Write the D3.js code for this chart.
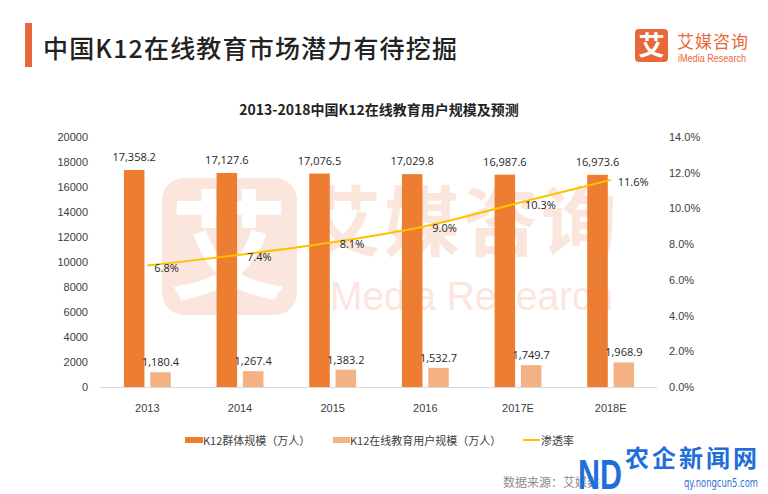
<!DOCTYPE html>
<html>
<head>
<meta charset="utf-8">
<script src="https://cdn.jsdelivr.net/npm/d3@7"></script>
<style>
  body { margin: 0; background: #fff; }
  svg { display: block; font-family: "Open Sans", "Noto Sans CJK SC", sans-serif; }
  .axis text { font-size: 11px; fill: #404040; }
  .cjk { font-family: "Noto Sans CJK SC", sans-serif; }
</style>
</head>
<body>
<div id="chart"></div>
<script>
const years = ['2013', '2014', '2015', '2016', '2017E', '2018E'];
const groupSize = [17358.2, 17127.6, 17076.5, 17029.8, 16987.6, 16973.6];
const onlineUsers = [1180.4, 1267.4, 1383.2, 1532.7, 1749.7, 1968.9];
const rate = [0.068, 0.074, 0.081, 0.090, 0.103, 0.116];
const leftTicks = [0, 2000, 4000, 6000, 8000, 10000, 12000, 14000, 16000, 18000, 20000];
const rightTicks = [0, 0.02, 0.04, 0.06, 0.08, 0.10, 0.12, 0.14];

const width = 768;
const height = 494;
const orange = '#ED7D31';
const light = '#F4B183';
const gold = '#FFC000';

const svg = d3.select('#chart').append('svg')
  .attr('width', width)
  .attr('height', height);

// header
svg.append('rect').attr('x', 25).attr('y', 23).attr('width', 7).attr('height', 44).attr('fill', '#E8683A');
svg.append('text').attr('class', 'cjk')
  .attr('x', 43).attr('y', 58)
  .attr('textLength', 414).attr('lengthAdjust', 'spacing')
  .style('font-size', '25px').style('font-weight', '500').style('fill', '#222')
  .text('中国K12在线教育市场潜力有待挖掘');

// logo
const logo = svg.append('g');
logo.append('rect').attr('x', 635).attr('y', 29).attr('width', 33).attr('height', 33).attr('rx', 4).attr('fill', '#E8683A');
logo.append('text').attr('class', 'cjk').attr('x', 651.5).attr('y', 55).attr('text-anchor', 'middle')
  .style('font-size', '26px').style('font-weight', 'bold').style('fill', '#fff').text('艾');
logo.append('text').attr('class', 'cjk').attr('x', 677).attr('y', 48)
  .attr('textLength', 71).attr('lengthAdjust', 'spacing')
  .style('font-size', '17px').style('fill', '#E8683A').text('艾媒咨询');
logo.append('text').attr('x', 678).attr('y', 62)
  .attr('textLength', 68).attr('lengthAdjust', 'spacingAndGlyphs')
  .style('font-family', 'Liberation Sans, sans-serif').style('font-size', '10px').style('fill', '#E8683A').text('iMedia Research');

// watermark
const wm = svg.append('g').attr('opacity', 0.16);
wm.append('rect').attr('x', 162).attr('y', 178).attr('width', 135).attr('height', 137).attr('rx', 22).attr('fill', '#E8683A');
wm.append('text').attr('class', 'cjk').attr('x', 229).attr('y', 290).attr('text-anchor', 'middle')
  .style('font-size', '118px').style('font-weight', 'bold').style('fill', '#fff').text('艾');
wm.append('text').attr('class', 'cjk').attr('x', 305).attr('y', 250)
  .attr('textLength', 312).attr('lengthAdjust', 'spacing')
  .style('font-size', '76px').style('font-weight', 'bold').style('fill', '#E8683A').text('艾媒咨询');
wm.append('text').attr('x', 330).attr('y', 310)
  .attr('textLength', 283).attr('lengthAdjust', 'spacingAndGlyphs')
  .style('font-family', 'Liberation Sans, sans-serif').style('font-size', '40px').style('fill', '#E8683A').text('Media Research');

// chart title
svg.append('text').attr('class', 'cjk')
  .attr('x', 379).attr('y', 115).attr('text-anchor', 'middle')
  .style('font-size', '14px').style('font-weight', 'bold').style('fill', '#222')
  .text('2013-2018中国K12在线教育用户规模及预测');

// scales
const x0 = d3.scaleBand().domain(years).range([101, 657]);
const x1 = d3.scaleBand().domain(['group', 'online']).range([0, x0.bandwidth()])
  .paddingInner(0.22).paddingOuter(0.87);
const y = d3.scaleLinear().domain([0, 20000]).range([387, 137]);
const yR = d3.scaleLinear().domain([0, 0.14]).range([387, 137]);

// axes
const leftAxis = svg.append('g').attr('class', 'axis').attr('transform', 'translate(100,0)')
  .call(d3.axisLeft(y).tickValues(leftTicks).tickSize(0).tickPadding(12).tickFormat(d3.format('d')));
leftAxis.select('.domain').remove();

const rightAxis = svg.append('g').attr('class', 'axis').attr('transform', 'translate(657,0)')
  .call(d3.axisRight(yR).tickValues(rightTicks).tickSize(0).tickPadding(12).tickFormat(d3.format('.1%')));
rightAxis.select('.domain').remove();

const bottomAxis = svg.append('g').attr('class', 'axis').attr('transform', 'translate(0,387)')
  .call(d3.axisBottom(x0).tickSize(0).tickPadding(17).tickSizeOuter(0));
bottomAxis.select('.domain').attr('stroke', '#D9D9D9').attr('d', 'M100,0.5H657');

// bars
const rows = years.map((d, i) => ({ year: d, group: groupSize[i], online: onlineUsers[i], rate: rate[i] }));
const fmt = d3.format(',.1f');

const bars = svg.append('g');
[['group', orange], ['online', light]].forEach(([key, color]) => {
  bars.selectAll('.bar-' + key)
    .data(rows)
    .enter()
    .append('rect')
    .attr('x', (d) => x0(d.year) + x1(key))
    .attr('y', (d) => y(d[key]))
    .attr('width', x1.bandwidth())
    .attr('height', (d) => y(0) - y(d[key]))
    .attr('fill', color);

  bars.selectAll('.label-' + key)
    .data(rows)
    .enter()
    .append('text')
    .attr('x', (d) => x0(d.year) + x1(key) + x1.bandwidth() / 2)
    .attr('y', (d) => y(d[key]) - (key === 'group' ? 9 : 6))
    .attr('text-anchor', 'middle')
    .style('font-size', '11px')
    .style('fill', '#262626')
    .text((d) => fmt(d[key]));
});

// penetration rate line
const line = d3.line()
  .x((d) => x0(d.year) + x0.bandwidth() / 2)
  .y((d) => yR(d.rate))
  .curve(d3.curveMonotoneX);

svg.append('path')
  .datum(rows)
  .attr('fill', 'none')
  .attr('stroke', gold)
  .attr('stroke-width', 2)
  .attr('d', line);

svg.append('g').selectAll('text')
  .data(rows)
  .enter()
  .append('text')
  .attr('x', (d) => x0(d.year) + x0.bandwidth() / 2 + 7)
  .attr('y', (d) => yR(d.rate) + 6)
  .style('font-size', '11px')
  .style('fill', '#262626')
  .text((d) => d3.format('.1%')(d.rate));

// legend
const legend = svg.append('g').attr('class', 'cjk').style('font-size', '11px').style('fill', '#404040');
legend.append('rect').attr('x', 185).attr('y', 437).attr('width', 18).attr('height', 6).attr('fill', orange);
legend.append('text').attr('x', 203).attr('y', 445).text('K12群体规模（万人）');
legend.append('rect').attr('x', 333).attr('y', 437).attr('width', 17).attr('height', 6).attr('fill', light);
legend.append('text').attr('x', 350).attr('y', 445).text('K12在线教育用户规模（万人）');
legend.append('rect').attr('x', 523).attr('y', 439).attr('width', 17).attr('height', 2).attr('fill', gold);
legend.append('text').attr('x', 541).attr('y', 445).text('渗透率');

// source
svg.append('text').attr('class', 'cjk').attr('x', 503).attr('y', 487)
  .style('font-size', '12px').style('fill', '#8c8c8c').text('数据来源：艾媒数据中心');

// site watermark
const site = svg.append('g');
site.append('rect').attr('x', 600).attr('y', 446).attr('width', 90).attr('height', 46).attr('fill', '#fff');
site.append('text').attr('x', 578).attr('y', 489)
  .attr('textLength', 44).attr('lengthAdjust', 'spacingAndGlyphs')
  .style('font-family', 'Liberation Sans, sans-serif').style('font-size', '42px')
  .style('font-weight', 'bold').style('fill', '#1E6FD9').text('ND');
site.append('text').attr('class', 'cjk').attr('x', 625).attr('y', 467)
  .attr('textLength', 132).attr('lengthAdjust', 'spacing')
  .style('font-size', '24px').style('font-weight', 'bold').style('fill', '#1E6FD9').text('农企新闻网');
site.append('text').attr('x', 684).attr('y', 487)
  .attr('textLength', 74).attr('lengthAdjust', 'spacingAndGlyphs')
  .style('font-family', 'DejaVu Sans, sans-serif').style('font-size', '13px').style('fill', '#2a6fc9').text('qy.nongcun5.com');
</script>
</body>
</html>
